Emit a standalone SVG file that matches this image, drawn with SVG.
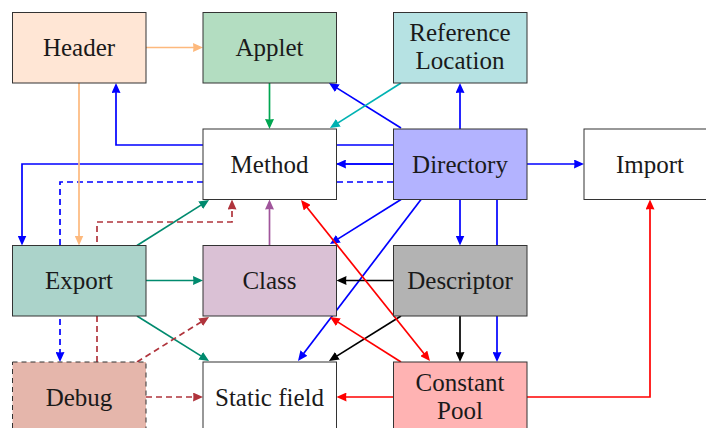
<svg xmlns="http://www.w3.org/2000/svg" width="706" height="428" viewBox="0 0 706 428">
  <style>
    .box { stroke: #333333; stroke-width: 1; }
    .lbl { font-family: "Liberation Serif", "Times New Roman", serif; font-size: 25px; fill: #1a1a1a; text-anchor: middle; }
    .e { fill: none; stroke-width: 1.7; stroke-linecap: butt; stroke-linejoin: miter; }
    .dash { stroke-dasharray: 6 4; }
    .blue { stroke: #0000ff; }
    .orange { stroke: #fdb97d; }
    .green { stroke: #00a651; }
    .teal { stroke: #00b2b2; }
    .sea { stroke: #008a6e; }
    .brick { stroke: #b0343c; }
    .plum { stroke: #a0559b; }
    .black { stroke: #000000; }
    .red { stroke: #ff0000; }
  </style>
  <defs>
    <marker id="aBlue" viewBox="0 0 10 9" refX="7" refY="4.5" markerWidth="10" markerHeight="9" markerUnits="userSpaceOnUse" orient="auto-start-reverse"><path d="M0,0 L10,4.5 L0,9 Q0.8,4.5 0,0 z" fill="#0000ff"/></marker>
    <marker id="aOrange" viewBox="0 0 10 9" refX="7" refY="4.5" markerWidth="10" markerHeight="9" markerUnits="userSpaceOnUse" orient="auto-start-reverse"><path d="M0,0 L10,4.5 L0,9 Q0.8,4.5 0,0 z" fill="#fdb97d"/></marker>
    <marker id="aGreen" viewBox="0 0 10 9" refX="7" refY="4.5" markerWidth="10" markerHeight="9" markerUnits="userSpaceOnUse" orient="auto-start-reverse"><path d="M0,0 L10,4.5 L0,9 Q0.8,4.5 0,0 z" fill="#00a651"/></marker>
    <marker id="aTeal" viewBox="0 0 10 9" refX="7" refY="4.5" markerWidth="10" markerHeight="9" markerUnits="userSpaceOnUse" orient="auto-start-reverse"><path d="M0,0 L10,4.5 L0,9 Q0.8,4.5 0,0 z" fill="#00b2b2"/></marker>
    <marker id="aSea" viewBox="0 0 10 9" refX="7" refY="4.5" markerWidth="10" markerHeight="9" markerUnits="userSpaceOnUse" orient="auto-start-reverse"><path d="M0,0 L10,4.5 L0,9 Q0.8,4.5 0,0 z" fill="#008a6e"/></marker>
    <marker id="aBrick" viewBox="0 0 10 9" refX="7" refY="4.5" markerWidth="10" markerHeight="9" markerUnits="userSpaceOnUse" orient="auto-start-reverse"><path d="M0,0 L10,4.5 L0,9 Q0.8,4.5 0,0 z" fill="#b0343c"/></marker>
    <marker id="aPlum" viewBox="0 0 10 9" refX="7" refY="4.5" markerWidth="10" markerHeight="9" markerUnits="userSpaceOnUse" orient="auto-start-reverse"><path d="M0,0 L10,4.5 L0,9 Q0.8,4.5 0,0 z" fill="#a0559b"/></marker>
    <marker id="aBlack" viewBox="0 0 10 9" refX="7" refY="4.5" markerWidth="10" markerHeight="9" markerUnits="userSpaceOnUse" orient="auto-start-reverse"><path d="M0,0 L10,4.5 L0,9 Q0.8,4.5 0,0 z" fill="#000000"/></marker>
    <marker id="aRed" viewBox="0 0 10 9" refX="7" refY="4.5" markerWidth="10" markerHeight="9" markerUnits="userSpaceOnUse" orient="auto-start-reverse"><path d="M0,0 L10,4.5 L0,9 Q0.8,4.5 0,0 z" fill="#ff0000"/></marker>
  </defs>

  <!-- connectors, drawn first so the boxes cover the runs that pass behind them -->
  <g id="connectors">
    <!-- Directory -->
    <path class="e blue" d="M401,128 L331.5,84.6" marker-end="url(#aBlue)"/>
    <path class="e blue" d="M460,129 L460,86" marker-end="url(#aBlue)"/>
    <path class="e blue" d="M393,145 H116 V86" marker-end="url(#aBlue)"/>
    <path class="e blue" d="M393,164 H339" marker-end="url(#aBlue)"/>
    <path class="e blue" d="M393,164 H22 V242.5" marker-end="url(#aBlue)"/>
    <path class="e blue dash" d="M393,182 H60 V359" marker-end="url(#aBlue)"/>
    <path class="e blue" d="M401,199.5 L332.5,242.4" marker-end="url(#aBlue)"/>
    <path class="e blue" d="M421,199.5 L299.8,358.6" marker-end="url(#aBlue)"/>
    <path class="e blue" d="M460,199.5 V242.5" marker-end="url(#aBlue)"/>
    <path class="e blue" d="M497,199.5 V359" marker-end="url(#aBlue)"/>
    <path class="e blue" d="M527,164 H581" marker-end="url(#aBlue)"/>
    <!-- Header -->
    <path class="e orange" d="M146,47.5 H200" marker-end="url(#aOrange)"/>
    <path class="e orange" d="M79,83 V242.5" marker-end="url(#aOrange)"/>
    <!-- Applet -->
    <path class="e green" d="M269.5,83 V126" marker-end="url(#aGreen)"/>
    <!-- Reference Location -->
    <path class="e teal" d="M401,83 L332.5,126.4" marker-end="url(#aTeal)"/>
    <!-- Export -->
    <path class="e sea" d="M137,245.5 L206.5,201.6" marker-end="url(#aSea)"/>
    <path class="e sea" d="M146,280.5 H200" marker-end="url(#aSea)"/>
    <path class="e sea" d="M137,316 L206.5,359.4" marker-end="url(#aSea)"/>
    <!-- Debug -->
    <path class="e brick dash" d="M97,362 V222 H232 V202.5" marker-end="url(#aBrick)"/>
    <path class="e brick dash" d="M137,362 L206.5,318.6" marker-end="url(#aBrick)"/>
    <path class="e brick dash" d="M146,397 H200" marker-end="url(#aBrick)"/>
    <!-- Class -->
    <path class="e plum" d="M269.5,245.5 V202.5" marker-end="url(#aPlum)"/>
    <!-- Descriptor -->
    <path class="e black" d="M393,280.5 H339.5" marker-end="url(#aBlack)"/>
    <path class="e black" d="M401,316 L331.5,359.4" marker-end="url(#aBlack)"/>
    <path class="e black" d="M460,316 V359" marker-end="url(#aBlack)"/>
    <!-- Constant Pool -->
    <path class="e red" d="M302.9,202.3 L428.1,358.7" marker-start="url(#aRed)" marker-end="url(#aRed)"/>
    <path class="e red" d="M401,362 L332.5,318.6" marker-end="url(#aRed)"/>
    <path class="e red" d="M393,397 H339.5" marker-end="url(#aRed)"/>
    <path class="e red" d="M527,397 H650 V202.5" marker-end="url(#aRed)"/>
  </g>

  <!-- nodes -->
  <g id="header">
    <rect class="box" x="12.5" y="12.5" width="133.5" height="70.5" fill="#ffe6d5"/>
    <text class="lbl" x="79" y="56">Header</text>
  </g>
  <g id="applet">
    <rect class="box" x="203" y="12.5" width="133.5" height="70.5" fill="#b3ddc1"/>
    <text class="lbl" x="269.5" y="56">Applet</text>
  </g>
  <g id="reference-location">
    <rect class="box" x="393.5" y="12.5" width="133.5" height="70.5" fill="#b6e2e3"/>
    <text class="lbl" x="460" y="41">Reference</text>
    <text class="lbl" x="460" y="69">Location</text>
  </g>
  <g id="method">
    <rect class="box" x="203" y="129" width="133.5" height="70.5" fill="#ffffff"/>
    <text class="lbl" x="269.5" y="172.5">Method</text>
  </g>
  <g id="directory">
    <rect class="box" x="393.5" y="129" width="133.5" height="70.5" fill="#b3b3ff"/>
    <text class="lbl" x="460" y="172.5">Directory</text>
  </g>
  <g id="import">
    <rect class="box" x="584" y="129" width="133.5" height="70.5" fill="#ffffff"/>
    <text class="lbl" x="650" y="172.5">Import</text>
  </g>
  <g id="export">
    <rect class="box" x="12.5" y="245.5" width="133.5" height="70.5" fill="#abd3ca"/>
    <text class="lbl" x="79" y="289">Export</text>
  </g>
  <g id="class">
    <rect class="box" x="203" y="245.5" width="133.5" height="70.5" fill="#dac1d5"/>
    <text class="lbl" x="269.5" y="289">Class</text>
  </g>
  <g id="descriptor">
    <rect class="box" x="393.5" y="245.5" width="133.5" height="70.5" fill="#b3b3b3"/>
    <text class="lbl" x="460" y="289">Descriptor</text>
  </g>
  <g id="debug">
    <rect class="box" x="12.5" y="362" width="133.5" height="70.5" fill="#e5b6ab" stroke="#1a1a1a" stroke-dasharray="5 4"/>
    <text class="lbl" x="79" y="405.5">Debug</text>
  </g>
  <g id="static-field">
    <rect class="box" x="203" y="362" width="133.5" height="70.5" fill="#ffffff"/>
    <text class="lbl" x="269.5" y="405.5">Static field</text>
  </g>
  <g id="constant-pool">
    <rect class="box" x="393.5" y="362" width="133.5" height="70.5" fill="#ffb3b3"/>
    <text class="lbl" x="460" y="391">Constant</text>
    <text class="lbl" x="460" y="419">Pool</text>
  </g>
</svg>
